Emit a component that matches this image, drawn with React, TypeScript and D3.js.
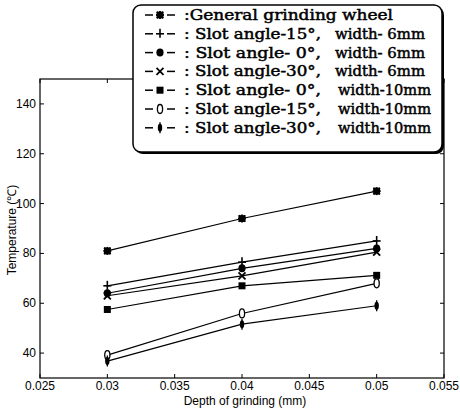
import React from "react";
import * as d3 from "d3";

const depths = [0.03, 0.04, 0.05];
const seriesNames = [
  "General grinding wheel",
  "Slot angle-15°, width-6mm",
  "Slot angle-0°, width-6mm",
  "Slot angle-30°, width-6mm",
  "Slot angle-0°, width-10mm",
  "Slot angle-15°, width-10mm",
  "Slot angle-30°, width-10mm",
];
const legendA = [":General grinding wheel", ": Slot angle-15°,", ": Slot angle- 0°,", ": Slot angle-30°,", ": Slot angle- 0°,", ": Slot angle-15°,", ": Slot angle-30°,"];
const legendB = ["", "width- 6mm", "width- 6mm", "width- 6mm", "width-10mm", "width-10mm", "width-10mm"];
const markers = ["asterisk", "plus", "circle", "cross", "square", "zero", "bar"];
const general = [81, 94, 105];
const s15w6 = [67, 76.5, 85];
const s0w6 = [64, 74, 82];
const s30w6 = [63, 71, 80.5];
const s0w10 = [57.5, 67, 71.2];
const s15w10 = [39.2, 55.9, 68];
const s30w10 = [36.8, 51.6, 59];
const allSeries = [general, s15w6, s0w6, s30w6, s0w10, s15w10, s30w10];
const xTicks = [0.025, 0.03, 0.035, 0.04, 0.045, 0.05, 0.055];
const yTicks = [40, 60, 80, 100, 120, 140];

const L = 40, R = 444, T = 79, B = 378;
const x = d3.scaleLinear().domain([0.025, 0.055]).range([L, R]);
const y = d3.scaleLinear().domain([30, 150]).range([B, T]);
const line = d3.line<number>().x((_, i) => x(depths[i])).y((d) => y(d));
const SERIF = "DejaVu Serif Condensed";
const SANS = "Liberation Sans";

function Marker({ type, cx, cy }: { type: string; cx: number; cy: number }) {
  const s = 4;
  switch (type) {
    case "asterisk":
      return (
        <g stroke="#000" strokeWidth={1.8}>
          <line x1={cx - s} y1={cy} x2={cx + s} y2={cy} />
          <line x1={cx} y1={cy - s} x2={cx} y2={cy + s} />
          <line x1={cx - s * 0.8} y1={cy - s * 0.8} x2={cx + s * 0.8} y2={cy + s * 0.8} />
          <line x1={cx - s * 0.8} y1={cy + s * 0.8} x2={cx + s * 0.8} y2={cy - s * 0.8} />
          <rect x={cx - 2.5} y={cy - 2.5} width={5} height={5} fill="#000" />
        </g>
      );
    case "plus":
      return (
        <g stroke="#000" strokeWidth={1.6}>
          <line x1={cx - s} y1={cy} x2={cx + s} y2={cy} />
          <line x1={cx} y1={cy - s - 1} x2={cx} y2={cy + s} />
        </g>
      );
    case "circle":
      return <ellipse cx={cx} cy={cy} rx={3.6} ry={4} fill="#000" />;
    case "cross":
      return (
        <g stroke="#000" strokeWidth={1.8}>
          <line x1={cx - 3.5} y1={cy - 3.5} x2={cx + 3.5} y2={cy + 3.5} />
          <line x1={cx - 3.5} y1={cy + 3.5} x2={cx + 3.5} y2={cy - 3.5} />
        </g>
      );
    case "square":
      return <rect x={cx - 3.5} y={cy - 3.5} width={7} height={7} fill="#000" />;
    case "zero":
      return <ellipse cx={cx} cy={cy} rx={2.6} ry={4.5} fill="#fff" stroke="#000" strokeWidth={1.3} />;
    default:
      return (
        <g>
          <ellipse cx={cx} cy={cy} rx={2.2} ry={4} fill="#000" />
          <line x1={cx} y1={cy - 5.5} x2={cx} y2={cy + 5.5} stroke="#000" strokeWidth={1.3} />
        </g>
      );
  }
}

export default function App() {
  const tick = 4;
  const lgX = 133, lgY = 5, lgW = 309, lgH = 147;
  const rowY = (i: number) => 15 + i * 18.8;
  return (
    <svg width={460} height={408} style={{ position: "absolute", left: 0, top: 0, background: "#fff" }}>
      <rect x={0} y={0} width={460} height={408} fill="#fff" />
      <rect x={L} y={T} width={R - L} height={B - T} fill="none" stroke="#000" strokeWidth={1.2} />
      {xTicks.map((t) => (
        <g key={"x" + t}>
          <line x1={x(t)} y1={B} x2={x(t)} y2={B - tick} stroke="#000" />
          <line x1={x(t)} y1={T} x2={x(t)} y2={T + tick} stroke="#000" />
          <text x={x(t)} y={390} textAnchor="middle" fontFamily={SANS} fontSize={12}>
            {String(t)}
          </text>
        </g>
      ))}
      {yTicks.map((t) => (
        <g key={"y" + t}>
          <line x1={L} y1={y(t)} x2={L + tick} y2={y(t)} stroke="#000" />
          <line x1={R} y1={y(t)} x2={R - tick} y2={y(t)} stroke="#000" />
          <text x={L - 4} y={y(t) + 4} textAnchor="end" fontFamily={SANS} fontSize={12}>
            {t}
          </text>
        </g>
      ))}
      <text x={245} y={405} textAnchor="middle" fontFamily={SANS} fontSize={12}>
        Depth of grinding (mm)
      </text>
      <text transform="translate(16,230) rotate(-90)" textAnchor="middle" fontFamily={SANS} fontSize={12}>
        Temperature (℃)
      </text>
      {allSeries.map((s, k) => (
        <g key={seriesNames[k]}>
          <path d={line(s) || ""} fill="none" stroke="#000" strokeWidth={1.2} />
          {s.map((v, i) => (
            <Marker key={i} type={markers[k]} cx={x(depths[i])} cy={y(v)} />
          ))}
        </g>
      ))}
      <rect x={lgX + 2} y={lgY + 2} width={lgW} height={lgH} rx={8} fill="#000" />
      <rect x={lgX} y={lgY} width={lgW} height={lgH} rx={8} fill="#fff" stroke="#000" strokeWidth={1.5} />
      {seriesNames.map((n, i) => (
        <g key={"lg" + n}>
          <line x1={145} y1={rowY(i)} x2={153} y2={rowY(i)} stroke="#000" strokeWidth={1.5} />
          <line x1={167} y1={rowY(i)} x2={175} y2={rowY(i)} stroke="#000" strokeWidth={1.5} />
          <Marker type={markers[i]} cx={160} cy={rowY(i)} />
          <text
            x={184}
            y={rowY(i) + 5}
            fontFamily={SERIF}
            fontSize={15}
            stroke="#000"
            strokeWidth={0.45}
            textLength={i === 0 ? 209 : 137}
            lengthAdjust="spacingAndGlyphs"
          >
            {legendA[i]}
          </text>
          {legendB[i] && (
            <text
              x={i < 4 ? 335 : 338}
              y={rowY(i) + 5}
              fontFamily={SERIF}
              fontSize={15}
              stroke="#000"
              strokeWidth={0.45}
              textLength={i < 4 ? 90 : 93}
              lengthAdjust="spacingAndGlyphs"
            >
              {legendB[i]}
            </text>
          )}
        </g>
      ))}
    </svg>
  );
}
